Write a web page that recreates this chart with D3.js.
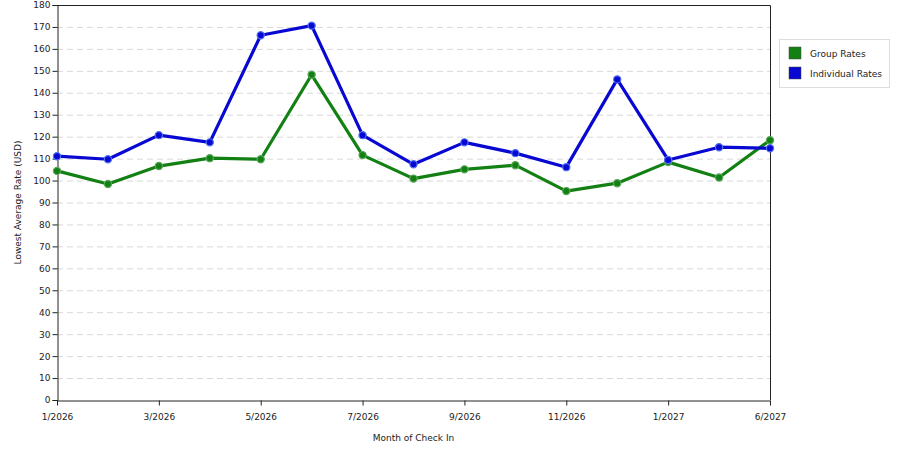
<!DOCTYPE html>
<html>
<head>
<meta charset="utf-8">
<script src="https://cdn.jsdelivr.net/npm/d3@7"></script>
<style>
  body { margin: 0; background: #fff; }
  text { font-family: "DejaVu Sans", "Liberation Sans", sans-serif; font-size: 9px; fill: #222; }
</style>
</head>
<body>
<div class="visHolder"></div>
<script>
// months on the x axis (one point each)
const months = ["1/2026","2/2026","3/2026","4/2026","5/2026","6/2026","7/2026","8/2026",
                "9/2026","10/2026","11/2026","12/2026","1/2027","2/2027","6/2027"];
// labelled months
const tickLabels = ["1/2026","3/2026","5/2026","7/2026","9/2026","11/2026","1/2027","6/2027"];
const groupRates = [104.4, 98.4, 106.6, 110.2, 109.7, 148.2, 111.6, 100.9, 105.1, 107.0, 95.2, 98.8, 108.4, 101.4, 118.4];
const individualRates = [111.1, 109.7, 120.7, 117.4, 166.2, 170.6, 120.7, 107.4, 117.4, 112.5, 106.1, 146.1, 109.4, 115.2, 114.7];
const yTicks = d3.range(0, 181, 10);

const w = 900, h = 450;
const plotLeft = 57, plotRight = 770, plotTop = 5, plotBottom = 400;

const svg = d3.select(".visHolder").append("svg")
  .attr("width", w).attr("height", h);

const xScale = d3.scalePoint().domain(months).range([plotLeft, plotRight]);
const yScale = d3.scaleLinear().domain([0, 180]).range([plotBottom, plotTop]);

// grid lines
svg.append("g").selectAll("line")
  .data(yTicks.filter(d => d > 0 && d < 180))
  .enter().append("line")
  .attr("x1", plotLeft).attr("x2", plotRight)
  .attr("y1", d => yScale(d) + 0.5).attr("y2", d => yScale(d) + 0.5)
  .attr("stroke", "#d8d8d8").attr("stroke-dasharray", "6,4");

// frame top/right
svg.append("path")
  .attr("d", `M${plotLeft},${plotTop + 0.5}H${plotRight + 0.5}V${plotBottom}`)
  .attr("fill", "none").attr("stroke", "#222");

// axes
const yAxis = d3.axisLeft(yScale).tickValues(yTicks).tickSize(5).tickPadding(2);
svg.append("g").attr("transform", `translate(${plotLeft + 0.5},0)`).call(yAxis)
  .call(g => g.selectAll("path,line").attr("stroke", "#222"))
  .call(g => g.selectAll("text").attr("font-size", 9).attr("font-family", "DejaVu Sans"));

const xAxis = d3.axisBottom(xScale).tickValues(tickLabels).tickSize(5).tickPadding(8).tickSizeOuter(0);
svg.append("g").attr("transform", `translate(0,${plotBottom + 0.5})`).call(xAxis)
  .call(g => g.selectAll("path,line").attr("stroke", "#222"))
  .call(g => g.selectAll("text").attr("font-size", 9).attr("font-family", "DejaVu Sans"));

// axis titles
svg.append("text").attr("x", (plotLeft + plotRight) / 2).attr("y", 441)
  .attr("text-anchor", "middle").text("Month of Check In");
svg.append("text").attr("transform", `translate(21,${(plotTop + plotBottom) / 2}) rotate(-90)`)
  .attr("text-anchor", "middle").text("Lowest Average Rate (USD)");

// series
const series = [
  { name: "Group Rates", values: groupRates, color: "#138013", halo: "#5aa65a" },
  { name: "Individual Rates", values: individualRates, color: "#0808d2", halo: "#4f73f0" }
];

const line = d3.line().x((d, i) => xScale(months[i])).y(d => yScale(d));

series.forEach(s => {
  svg.append("path").datum(s.values)
    .attr("d", line).attr("fill", "none")
    .attr("stroke", s.color).attr("stroke-width", 3.2)
    .attr("stroke-linejoin", "round");
  svg.append("g").selectAll("circle")
    .data(s.values).enter().append("circle")
    .attr("cx", (d, i) => xScale(months[i])).attr("cy", d => yScale(d))
    .attr("r", 3.6).attr("fill", s.color)
    .attr("stroke", s.halo).attr("stroke-width", 1.2);
});

// legend
const lg = svg.append("g");
lg.append("rect").attr("x", 779.5).attr("y", 39.5).attr("width", 110).attr("height", 48)
  .attr("fill", "#fff").attr("stroke", "#ddd");
series.forEach((s, i) => {
  lg.append("rect").attr("x", 789).attr("y", 47 + i * 20).attr("width", 12).attr("height", 12)
    .attr("fill", s.color).attr("stroke", "#444").attr("stroke-width", 0.5);
  lg.append("text").attr("x", 810).attr("y", 57 + i * 20).text(s.name);
});
</script>
</body>
</html>
